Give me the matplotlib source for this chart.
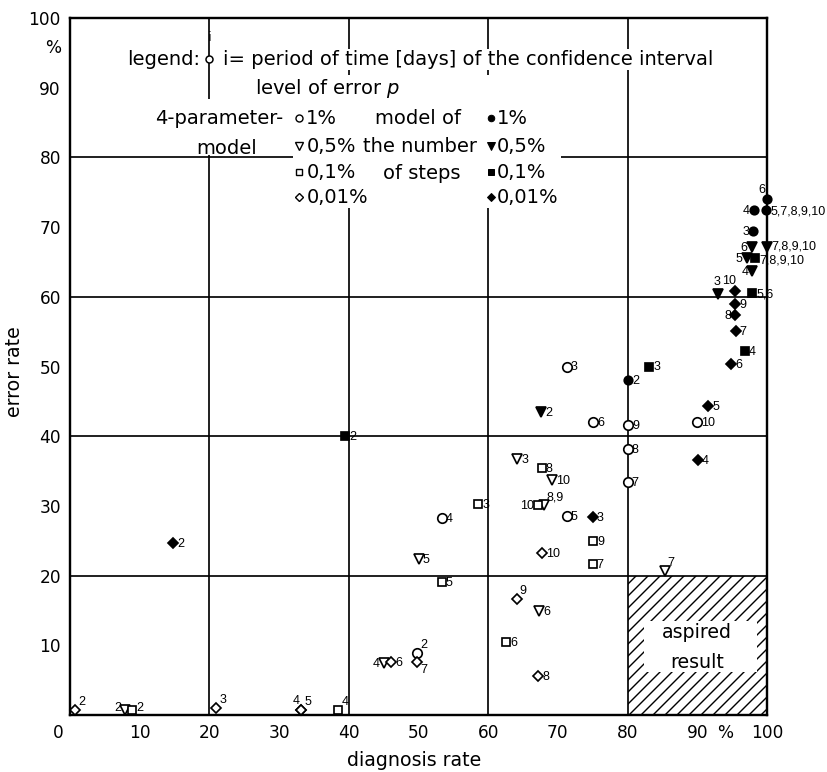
import matplotlib
matplotlib.use('Agg')
import matplotlib.pyplot as plt
from matplotlib.patches import Rectangle
from matplotlib.transforms import ScaledTranslation

plt.rcParams['font.family'] = ['DejaVu Sans']
plt.rcParams['hatch.linewidth'] = 1.4
plt.rcParams['mathtext.default'] = 'it'

# ---------------- data (diagnosis rate %, error rate %, day label) ----------------
# 4-parameter model, level of error 1 %
P1_days = ['2', '3', '4', '5', '6', '7', '8', '9', '10']
P1_x = [49.8, 71.3, 53.3, 71.3, 75.1, 80.0, 80.0, 80.1, 90.0]
P1_y = [8.9, 50.0, 28.3, 28.5, 42.1, 33.4, 38.2, 41.6, 42.1]
# 4-parameter model, 0.5 %
P05_days = ['2', '3', '4', '5', '6', '7', '8,9', '10']
P05_x = [7.9, 64.2, 45.0, 50.0, 67.3, 85.3, 68.0, 69.2]
P05_y = [0.7, 36.8, 7.4, 22.4, 14.9, 20.6, 30.1, 33.7]
# 4-parameter model, 0.1 %
P01_days = ['2', '3', '4', '5', '6', '7', '8', '9', '10']
P01_x = [8.9, 58.6, 38.5, 53.3, 62.6, 75.0, 67.7, 75.1, 67.1]
P01_y = [0.7, 30.3, 0.7, 19.1, 10.5, 21.6, 35.4, 25.0, 30.1]
# 4-parameter model, 0.01 %
P001_days = ['2', '3', '4', '5', '6', '7', '8', '9', '10']
P001_x = [0.7, 21.0, 33.2, 33.2, 46.1, 49.8, 67.2, 64.1, 67.7]
P001_y = [0.7, 1.0, 0.7, 0.7, 7.6, 7.6, 5.6, 16.6, 23.3]

# model of the number of steps, 1 %
S1_days = ['2', '3', '4', '5,7,8,9,10', '6']
S1_x = [80.1, 98.0, 98.1, 99.9, 100.0]
S1_y = [48.1, 69.5, 72.4, 72.4, 74.0]
# steps, 0.5 %
S05_days = ['2', '3', '4', '5', '6', '7,8,9,10']
S05_x = [67.6, 92.9, 97.9, 97.1, 97.8, 100.0]
S05_y = [43.5, 60.4, 63.7, 65.5, 67.1, 67.1]
# steps, 0.1 %
S01_days = ['2', '3', '4', '5,6', '7,8,9,10']
S01_x = [39.5, 83.1, 96.8, 97.9, 98.3]
S01_y = [40.0, 50.0, 52.2, 60.5, 65.5]
# steps, 0.01 %
S001_days = ['2', '3', '4', '5', '6', '7', '8', '9', '10']
S001_x = [14.8, 75.0, 90.1, 91.6, 94.9, 95.5, 95.4, 95.4, 95.4]
S001_y = [24.7, 28.4, 36.6, 44.3, 50.3, 55.1, 57.4, 58.9, 60.8]

X_TICKS = [0, 10, 20, 30, 40, 50, 60, 70, 80, 90, 100]
Y_TICKS = [10, 20, 30, 40, 50, 60, 70, 80, 90, 100]
GRID = [20, 40, 60, 80]
ASPIRED_X = (80, 100)
ASPIRED_Y = (0, 20)

# ---------------- label placement (style only) ----------------
P1_pos = ['ur', 'r', 'r', 'r', 'r', 'r', 'r', 'r', 'r']
P05_pos = ['lb', 'r', 'l', 'r', 'r', 'ur', 'ur', 'r']
P01_pos = ['rb', 'r', 'ur', 'r', 'r', 'r', 'r', 'r', 'l']
P001_pos = ['ur', 'ur', 'ul', 'ur', 'r', 'dr', 'r', 'ur', 'r']
S1_pos = ['r', 'l', 'l', 'r', 'ul']
S05_pos = ['r', 'u', 'l', 'l', 'l', 'ru']
S01_pos = ['r', 'r', 'r', 'r', 'rd']
S001_pos = ['r', 'r', 'r', 'r', 'r', 'r', 'l', 'r', 'ul2']

OFF = {
    'r': ((4, -1), 'left', 'center'),
    'ru': ((4, 0.5), 'left', 'center'),
    'rd': ((4, -2.5), 'left', 'center'),
    'l': ((-4, -1), 'right', 'center'),
    'rb': ((4, 2), 'left', 'center'),
    'lb': ((-4, 2), 'right', 'center'),
    'ur': ((3, 2), 'left', 'bottom'),
    'ul': ((-2, 3), 'right', 'bottom'),
    'ul2': ((1, 4), 'right', 'bottom'),
    'u': ((-1, 6), 'center', 'bottom'),
    'dr': ((3, -2), 'left', 'top'),
}
LABEL_FONT = ['Liberation Sans', 'DejaVu Sans']

DPI = 72
W, H = 827, 772
fig = plt.figure(figsize=(W / DPI, H / DPI), dpi=DPI)
ax = fig.add_axes([70 / W, 57 / H, 697 / W, 697 / H])
ax.set_xlim(0, 100)
ax.set_ylim(0, 100)

for s in ax.spines.values():
    s.set_linewidth(2.4)
    s.set_color('black')

# grid lines at 20 % steps
for g in GRID:
    ax.axvline(g, color='black', linewidth=1.7, zorder=1)
    ax.axhline(g, color='black', linewidth=1.7, zorder=1)

xt = X_TICKS + [94]
xl = [str(v) for v in X_TICKS] + ['%']
ax.set_xticks(xt)
ax.set_xticklabels(xl)
yt = Y_TICKS + [96]
yl = [str(v) for v in Y_TICKS] + ['%']
ax.set_yticks(yt)
ax.set_yticklabels(yl)
ax.tick_params(which='both', length=0)
ax.tick_params(axis='x', labelsize=17, pad=9)
ax.tick_params(axis='y', labelsize=17, pad=9)
for lbl in ax.get_xticklabels():
    if lbl.get_text() == '0':
        lbl.set_transform(lbl.get_transform() + ScaledTranslation(-12 / 72, 0, fig.dpi_scale_trans))

ax.set_xlabel('diagnosis rate', fontsize=19)
ax.xaxis.set_label_coords(0.494, -0.052)
ax.set_ylabel('error rate', fontsize=19)
ax.yaxis.set_label_coords(-0.066, 0.493)

# aspired result region
ax.add_patch(Rectangle((ASPIRED_X[0], ASPIRED_Y[0]), ASPIRED_X[1] - ASPIRED_X[0],
                       ASPIRED_Y[1] - ASPIRED_Y[0], facecolor='none', edgecolor='black',
                       hatch='//', linewidth=0, zorder=1.5))
ax.add_patch(Rectangle((82.3, 6.2), 16.2, 7.3, facecolor='white', edgecolor='none', zorder=1.6))
ax.text(90, 11.8, 'aspired', fontsize=19, ha='center', va='center', zorder=3)
ax.text(90, 7.6, 'result', fontsize=19, ha='center', va='center', zorder=3)

series = [
    (P1_x, P1_y, P1_days, P1_pos, 'o', 'white', 9.5),
    (P05_x, P05_y, P05_days, P05_pos, 'v', 'white', 10),
    (P01_x, P01_y, P01_days, P01_pos, 's', 'white', 8.5),
    (P001_x, P001_y, P001_days, P001_pos, 'D', 'white', 7),
    (S1_x, S1_y, S1_days, S1_pos, 'o', 'black', 8.5),
    (S05_x, S05_y, S05_days, S05_pos, 'v', 'black', 9.5),
    (S01_x, S01_y, S01_days, S01_pos, 's', 'black', 8),
    (S001_x, S001_y, S001_days, S001_pos, 'D', 'black', 6.5),
]
for xs, ys, days, pos, mk, fc, ms in series:
    ax.plot(xs, ys, ls='none', marker=mk, mfc=fc, mec='black', mew=1.7, ms=ms,
            zorder=4, clip_on=False)
    for x, y, d, p in zip(xs, ys, days, pos):
        off, ha, va = OFF[p]
        ax.annotate(d, (x, y), xytext=off, textcoords='offset points', fontsize=12.5,
                    family=LABEL_FONT, ha=ha, va=va, zorder=5, annotation_clip=False)

# ---------------- legend block ----------------
# white backing of the legend block (hides the grid behind it, as in the original)
ax.add_patch(Rectangle((17.5, 80.35), 14.5, 8.0, facecolor='white', edgecolor='none', zorder=2))
ax.add_patch(Rectangle((32.0, 72.8), 38.5, 19.0, facecolor='white', edgecolor='none', zorder=2))

bb = dict(facecolor='white', edgecolor='none', pad=1.0)
LF = 19.5
ax.text(8.2, 94.1, 'legend:', fontsize=LF, ha='left', va='center', zorder=3, bbox=bb)
ax.plot([20], [94.1], ls='none', marker='o', mfc='white', mec='black', mew=1.5, ms=7, zorder=4)
ax.text(20, 96.2, 'i', fontsize=13, ha='center', va='bottom', zorder=3)
ax.text(21.9, 94.1, 'i= period of time [days] of the confidence interval', fontsize=LF,
        ha='left', va='center', zorder=3, bbox=bb)
ax.text(26.5, 89.9, 'level of error $p$', fontsize=LF, ha='left', va='center', zorder=3, bbox=bb)
ax.text(30.6, 85.6, '4-parameter-', fontsize=LF, ha='right', va='center', zorder=3, bbox=bb)
ax.text(22.4, 81.3, 'model', fontsize=LF, ha='center', va='center', zorder=3)
ax.text(49.9, 85.6, 'model of', fontsize=LF, ha='center', va='center', zorder=3)
ax.text(50.2, 81.6, 'the number', fontsize=LF, ha='center', va='center', zorder=3)
ax.text(50.4, 77.7, 'of steps', fontsize=LF, ha='center', va='center', zorder=3)

leg_levels = ['1%', '0,5%', '0,1%', '0,01%']
leg_y = [85.6, 81.6, 77.9, 74.3]
leg_open = [('o', 7), ('v', 8), ('s', 6.5), ('D', 5.5)]
leg_fill = [('o', 6.5), ('v', 8), ('s', 6), ('D', 5.5)]
for lev, yy, (mo, so), (mf, sf) in zip(leg_levels, leg_y, leg_open, leg_fill):
    ax.text(33.9, yy, lev, fontsize=LF, ha='left', va='center', zorder=3)
    ax.plot([32.9], [yy], ls='none', marker=mo, mfc='white', mec='black', mew=1.4, ms=so, zorder=4)
    ax.text(61.2, yy, lev, fontsize=LF, ha='left', va='center', zorder=3)
    ax.plot([60.4], [yy], ls='none', marker=mf, mfc='black', mec='black', mew=1.0, ms=sf, zorder=4)

fig.savefig('out.png', dpi=DPI)
